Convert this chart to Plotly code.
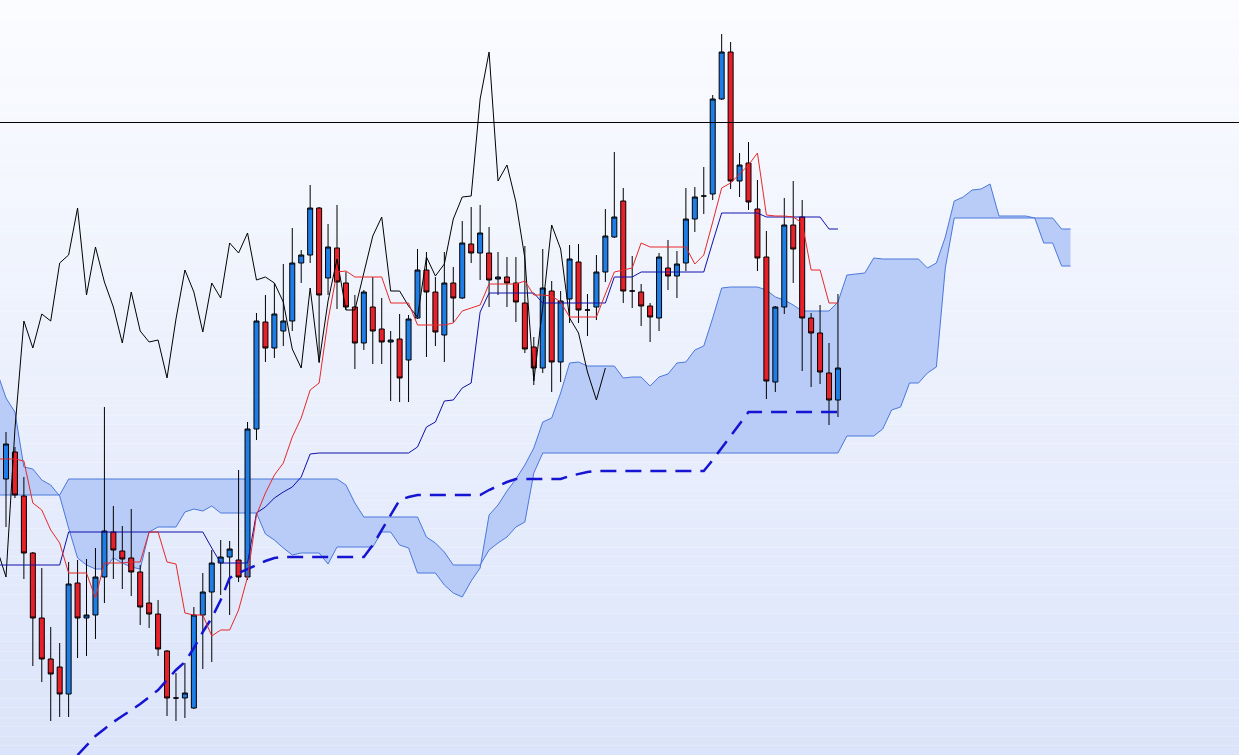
import numpy as np
import plotly.graph_objects as go

# price data, oldest -> newest (arbitrary price units)
opens = [276, 303, 259, 202, 137, 96, 88, 61, 172, 137,
         140, 178, 223, 204, 197, 183, 152, 141, 104, 57,
         57, 47, 140, 163, 192, 198, 195, 178, 326, 433,
         407, 424, 434, 492, 500, 547, 477, 507, 472, 448,
         412, 448, 426, 413, 416, 395, 437, 485, 463, 420,
         472, 457, 511, 502, 502, 476, 478, 472, 452, 408,
         387, 464, 393, 456, 493, 445, 448, 483, 518, 554,
         464, 463, 449, 437, 487, 479, 492, 536, 559, 561,
         656, 703, 574, 592, 546, 498, 373, 448, 530, 538,
         437, 422, 382, 355]
highs = [323, 308, 278, 203, 187, 128, 112, 193, 195, 196,
         207, 348, 249, 229, 246, 190, 203, 155, 105, 82,
         92, 148, 182, 205, 215, 214, 285, 333, 442, 460,
         472, 491, 527, 505, 570, 548, 531, 550, 483, 460,
         465, 478, 457, 424, 441, 440, 506, 503, 478, 503,
         488, 534, 548, 550, 528, 503, 498, 498, 509, 418,
         506, 474, 464, 510, 511, 461, 500, 546, 603, 567,
         499, 471, 452, 502, 515, 504, 567, 568, 588, 660,
         721, 713, 602, 613, 575, 524, 449, 557, 574, 555,
         442, 450, 412, 461]
lows = [228, 257, 176, 89, 73, 34, 38, 38, 97, 99,
        116, 152, 176, 166, 159, 130, 127, 99, 39, 34,
        37, 46, 86, 93, 160, 140, 173, 175, 315, 393,
        397, 409, 424, 472, 492, 392, 460, 446, 445, 386,
        405, 391, 391, 354, 353, 353, 436, 398, 409, 393,
        433, 456, 492, 475, 448, 460, 448, 433, 402, 370,
        382, 363, 373, 432, 432, 419, 435, 473, 517, 452,
        447, 429, 413, 424, 465, 457, 484, 523, 541, 555,
        655, 566, 558, 545, 484, 356, 363, 441, 472, 384,
        368, 371, 330, 338]
closes = [311, 260, 202, 137, 96, 81, 61, 171, 137, 140,
          178, 224, 205, 196, 183, 148, 141, 106, 57, 57,
          62, 140, 163, 192, 198, 206, 178, 326, 434, 407,
          441, 434, 492, 500, 547, 460, 508, 473, 448, 412,
          463, 424, 413, 415, 377, 436, 485, 463, 423, 472,
          457, 512, 502, 522, 475, 478, 472, 453, 406, 387,
          467, 393, 454, 496, 445, 445, 483, 519, 538, 464,
          464, 449, 438, 498, 479, 491, 536, 558, 559, 656,
          703, 574, 590, 553, 497, 374, 448, 530, 506, 437,
          422, 383, 355, 387]

# conversion / base lines, from bar -1 to the last bar
tenkan = [296, 296, 296, 294, 252, 245, 225, 212, 182, 182,
          182, 157, 192, 192, 192, 193, 193, 223, 223, 193,
          191, 142, 140, 140, 119, 125, 125, 145, 178, 240,
          262, 280, 292, 318, 337, 365, 372, 435, 483, 484,
          478, 478, 478, 478, 452, 452, 452, 430, 430, 430,
          430, 432, 444, 447, 450, 471, 471, 471, 471, 474,
          460, 460, 459, 453, 438, 438, 438, 438, 461, 483,
          485, 487, 512, 508, 508, 508, 508, 508, 491, 500,
          533, 567, 572, 581, 590, 602, 540, 539, 539, 538,
          532, 485, 485, 452, 452]
kijun = [190, 190, 190, 190, 190, 190, 190, 190, 223, 223,
         223, 223, 223, 223, 223, 223, 223, 223, 223, 223,
         223, 223, 223, 223, 207, 192, 192, 192, 192, 242,
         248, 257, 263, 268, 278, 301, 302, 302, 302, 302,
         302, 302, 302, 302, 302, 302, 302, 308, 328, 333,
         354, 355, 367, 372, 443, 462, 462, 462, 462, 462,
         462, 452, 452, 452, 452, 452, 452, 452, 452, 478,
         478, 478, 483, 483, 483, 483, 483, 483, 483, 483,
         513, 542, 542, 542, 542, 542, 538, 538, 538, 538,
         538, 538, 538, 526, 526]

# leading spans, bar -1 to 26 bars past the last bar
span_a = [383, 357, 343, 288, 286, 275, 270, 259, 227, 197,
          190, 186, 186, 197, 192, 188, 186, 223, 228, 228,
          228, 243, 246, 244, 249, 242, 242, 242, 242, 242,
          221, 215, 207, 200, 202, 202, 202, 191, 208, 208,
          208, 208, 208, 223, 223, 210, 207, 182, 182, 182,
          170, 162, 158, 174, 187, 240, 250, 264, 276, 290,
          307, 333, 337, 362, 392, 393, 389, 389, 389, 389,
          377, 378, 378, 369, 378, 381, 392, 393, 405, 409,
          437, 467, 468, 468, 468, 468, 465, 458, 455, 450,
          444, 444, 444, 444, 453, 480, 481, 482, 497, 496,
          496, 496, 496, 496, 487, 492, 518, 554, 558, 565,
          566, 571, 539, 539, 539, 539, 537, 512, 512, 489,
          489]
span_b = [260, 260, 260, 260, 260, 260, 260, 260, 276, 276,
          276, 276, 276, 276, 276, 276, 276, 276, 276, 276,
          276, 276, 276, 276, 276, 276, 276, 276, 276, 276,
          276, 276, 276, 276, 276, 276, 276, 276, 276, 270,
          252, 238, 238, 238, 238, 238, 238, 238, 218, 212,
          203, 190, 190, 190, 190, 205, 212, 218, 228, 233,
          282, 302, 302, 302, 302, 302, 302, 302, 302, 302,
          302, 302, 302, 302, 302, 302, 302, 302, 302, 302,
          302, 302, 302, 302, 302, 302, 302, 302, 302, 302,
          302, 302, 302, 302, 302, 319, 319, 319, 319, 326,
          345, 348, 372, 372, 382, 388, 487, 537, 537, 537,
          537, 537, 537, 537, 537, 537, 537, 537, 537, 526,
          526]

# long average (dashed), bar 8 to the last bar
long_line = [0, 10, 19, 26, 33, 39, 45, 51, 58, 65,
             75, 85, 93, 107, 123, 137, 155, 177, 182, 186,
             190, 194, 197, 198, 198, 198, 198, 198, 198, 198,
             198, 198, 198, 210, 225, 240, 255, 258, 260, 260,
             260, 260, 260, 260, 260, 260, 265, 269, 273, 276,
             276, 276, 276, 276, 276, 279, 281, 283, 284, 284,
             284, 284, 284, 284, 284, 284, 284, 284, 284, 284,
             284, 295, 307, 319, 331, 343, 343, 343, 343, 343,
             343, 343, 343, 343, 343, 343]

level = 632.5
shift = 26

n = len(closes)
bars = np.arange(n)
x_lines = np.arange(-1, n)
x_spans = np.arange(-1, n + shift)
x_long = np.arange(8, n)

cloud_edge = '#4a78dc'
cloud_fill = '#b9cbf7'

fig = go.Figure()

# leading spans / cloud, on the base axes so it stays under the candles
fig.add_trace(go.Scatter(x=x_spans, y=span_b, mode='lines',
                         line=dict(color=cloud_edge, width=1), hoverinfo='skip'))
fig.add_trace(go.Scatter(x=x_spans, y=span_a, mode='lines', fill='tonexty',
                         fillcolor=cloud_fill,
                         line=dict(color=cloud_edge, width=1), hoverinfo='skip'))

# everything else on an overlaid pair of axes
fig.add_trace(go.Candlestick(
    x=bars, open=opens, high=highs, low=lows, close=closes,
    increasing=dict(fillcolor='#1f7de6', line=dict(color='black', width=1)),
    decreasing=dict(fillcolor='#e8202a', line=dict(color='black', width=1)),
    hoverinfo='skip', xaxis='x2', yaxis='y2'
))

fig.add_trace(go.Scatter(x=x_long, y=long_line, mode='lines',
                         line=dict(color='#1414d2', width=2.5, dash='16px,9px'),
                         hoverinfo='skip', xaxis='x2', yaxis='y2'))
# lagging span = closes shifted back
fig.add_trace(go.Scatter(x=bars - shift, y=closes, mode='lines',
                         line=dict(color='black', width=1), hoverinfo='skip',
                         xaxis='x2', yaxis='y2'))
fig.add_trace(go.Scatter(x=x_lines, y=kijun, mode='lines',
                         line=dict(color='#1010a8', width=1), hoverinfo='skip',
                         xaxis='x2', yaxis='y2'))
fig.add_trace(go.Scatter(x=x_lines, y=tenkan, mode='lines',
                         line=dict(color='#e82828', width=1), hoverinfo='skip',
                         xaxis='x2', yaxis='y2'))

fig.add_shape(type='line', xref='paper', yref='y', x0=0, x1=1, y0=level, y1=level,
              line=dict(color='black', width=1))

# vertical background gradient
n_strips = 80
top = np.array([251, 252, 255])
bottom = np.array([219, 228, 250])
for k in range(n_strips):
    t = (k + 0.5) / n_strips
    r, g, b = (top + (bottom - top) * t).round().astype(int)
    fig.add_shape(type='rect', xref='paper', yref='paper', x0=0, x1=1,
                  y0=1 - (k + 1) / n_strips, y1=1 - k / n_strips,
                  fillcolor=f'rgb({r},{g},{b})', line_width=0, layer='below')

x_range = [-0.671, 137.83]
y_range = [0, 755]
fig.update_layout(
    width=1239, height=755,
    margin=dict(l=0, r=0, t=0, b=0),
    showlegend=False,
    paper_bgcolor='white',
    plot_bgcolor='rgba(0,0,0,0)',
    boxgap=0.2,
    xaxis=dict(range=x_range, visible=False, showgrid=False,
               zeroline=False, rangeslider=dict(visible=False)),
    yaxis=dict(range=y_range, visible=False, showgrid=False, zeroline=False),
    xaxis2=dict(range=x_range, overlaying='x', visible=False, showgrid=False,
                zeroline=False, rangeslider=dict(visible=False)),
    yaxis2=dict(range=y_range, overlaying='y', visible=False, showgrid=False,
                zeroline=False),
)

fig.write_html("out.html", config={'displayModeBar': False},
               post_script="document.body.style.margin='0';")
